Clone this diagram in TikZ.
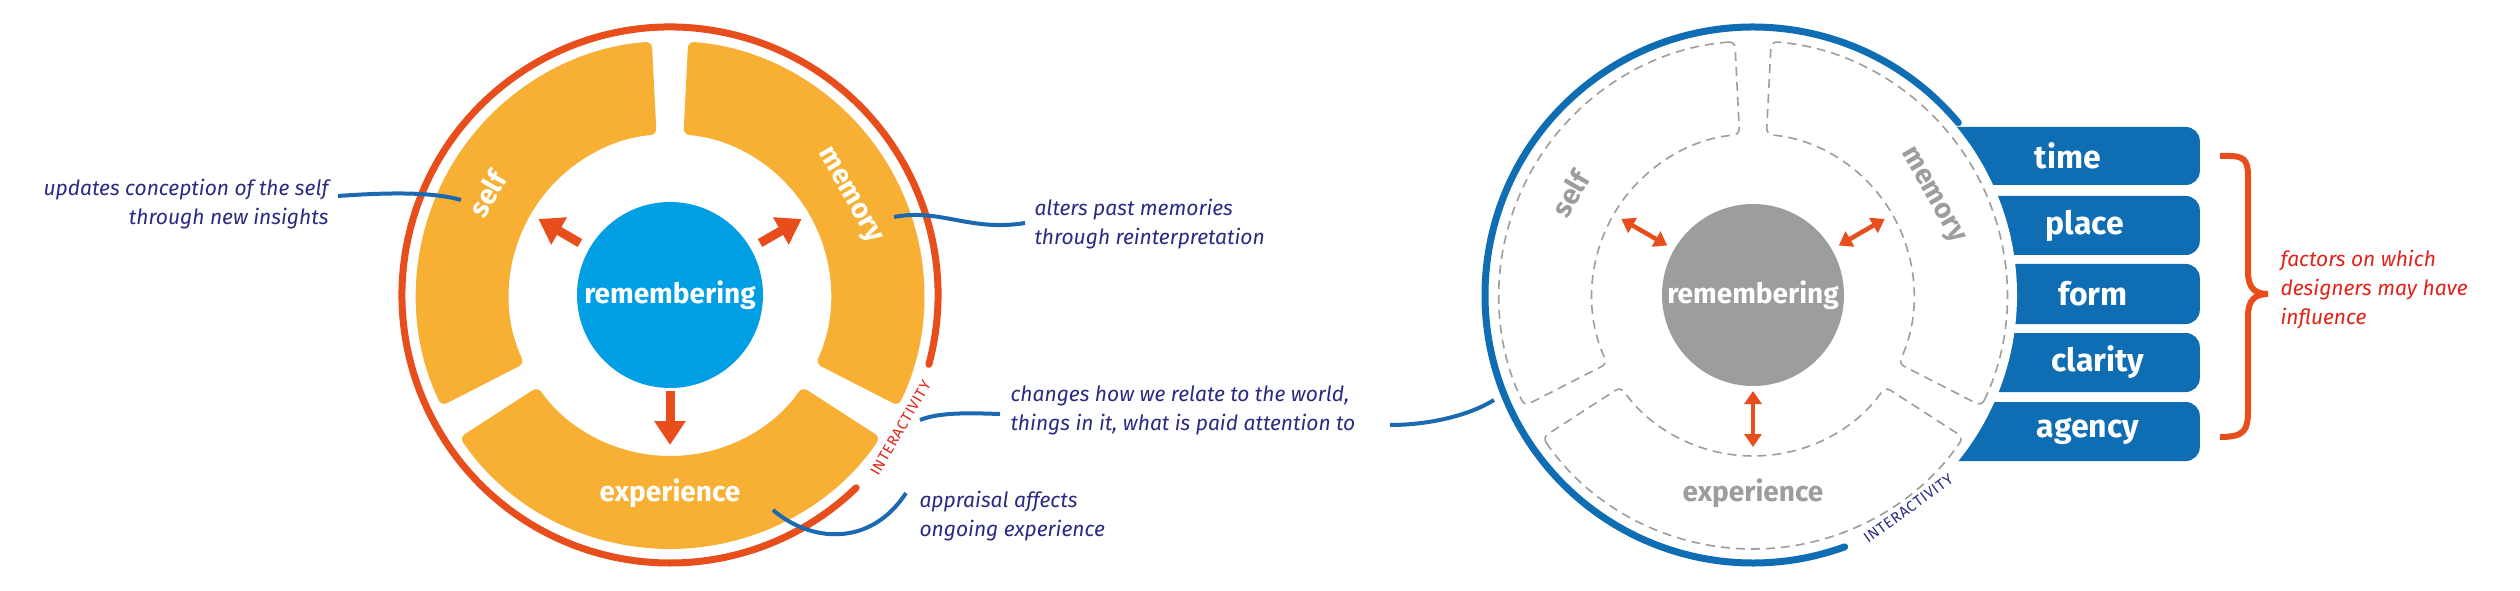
\documentclass[tikz,border=0pt]{standalone}
\usepackage{fontspec}
\setmainfont{Fira Sans}
\usetikzlibrary{arrows.meta}
\definecolor{segor}{HTML}{F7B033}
\definecolor{ringred}{HTML}{E84E1B}
\definecolor{cblue}{HTML}{009FE3}
\definecolor{tabblue}{HTML}{0F6DB4}
\definecolor{navy}{HTML}{2B2A83}
\definecolor{lineblue}{HTML}{1B6AB1}
\definecolor{gr}{HTML}{9D9D9C}
\definecolor{factred}{HTML}{E2231A}
\tikzset{
 segfill/.style={fill=segor,rounded corners=6pt},
 segdash/.style={draw=gr,dashed,line width=1.6pt,dash pattern=on 9pt off 6pt,rounded corners=6pt},
 lbl/.style={text=white,font=\fontsize{28}{30}\selectfont\bfseries},
 glbl/.style={text=gr,font=\fontsize{28}{30}\selectfont\bfseries},
 note/.style={text=navy,font=\fontsize{21}{29}\selectfont\itshape},
 noteline/.style={draw=lineblue,line width=4pt},
 bigarrow/.style={draw=ringred,line width=9pt,-{Triangle[length=24pt,width=30pt]}},
 dblarrow/.style={draw=ringred,line width=4.5pt,{Triangle[length=13pt,width=17pt]}-{Triangle[length=13pt,width=17pt]}},
 tabbox/.style={fill=tabblue,rounded corners=14pt},
 tablbl/.style={text=white,font=\fontsize{32}{34}\selectfont\bfseries},
 inter/.style={font=\fontsize{15}{15}\selectfont\addfontfeature{LetterSpace=5}}
}
\newcommand{\segpath}[2]{% start, end angle
 (#1+4.1:254pt) arc[start angle=#1+4.1,end angle=#2-4.1,radius=254pt]
 -- (#2-4.8:161pt) arc[start angle=#2-4.8,end angle=#1+4.8,radius=161pt] -- cycle}
\begin{document}
\begin{tikzpicture}[x=1pt,y=1pt]
\useasboundingbox[fill=white] (0,0) rectangle (2520,590);
% ================= LEFT =================
\begin{scope}[shift={(670,295)}]
 \fill[segfill] \segpath{90}{210};
 \fill[segfill] \segpath{210}{330};
 \fill[segfill] \segpath{-30}{90};
 \draw[ringred,line width=7pt,line cap=round] (-15:268pt) arc[start angle=-15,end angle=314,radius=268pt];
 \node[inter,text=factred,rotate=60] (intl) at (-30:266pt) {INTERACTIVITY};
 \node[circle,fill=cblue,minimum size=186pt,inner sep=0pt,lbl] (remL) at (0,0) {remembering};
 \node[lbl,rotate=60] (selfL) at (151:209pt) {self};
 \node[lbl,rotate=-60] (memL) at (29:204pt) {memory};
 \node[lbl] (expL) at (270:198pt) {experience};
 \coordinate (aS1) at (150:104pt); \coordinate (aS2) at (150:152pt);
 \coordinate (aM1) at (30:104pt); \coordinate (aM2) at (30:152pt);
 \coordinate (aE1) at (270:96pt); \coordinate (aE2) at (270:150pt);
 \draw[bigarrow] (aS1) -- (aS2);
 \draw[bigarrow] (aM1) -- (aM2);
 \draw[bigarrow] (aE1) -- (aE2);
\end{scope}
% annotations left
\node[note,align=right,anchor=east] (n1) at (332,386) {updates conception of the self\\through new insights};
\node[note,align=left,anchor=west] (n2) at (1031,366) {alters past memories\\through reinterpretation};
\node[note,align=left,anchor=west] (n3) at (1007,180) {changes how we relate to the world,\\things in it, what is paid attention to};
\node[note,align=left,anchor=west] (n4) at (916,74) {appraisal affects\\ongoing experience};
\coordinate (c1) at (461,390);
\coordinate (c2) at (894,373);
\coordinate (c3) at (920,170);
\coordinate (c4) at (773,80);
\coordinate (c5) at (1494,190);
\draw[noteline] (338,394) .. controls (380,397) and (430,399) .. (c1);
\draw[noteline] (c2) .. controls (940,382) and (970,358) .. (1025,367);
\draw[noteline] (c3) .. controls (940,178) and (970,177) .. (1000,176);
\draw[noteline] (c4) .. controls (810,48) and (870,42) .. (906,97);
\draw[noteline] (1390,165) .. controls (1430,165) and (1470,175) .. (c5);
% ================= RIGHT =================
\node[tabbox,minimum width=320pt,minimum height=58pt,anchor=east] (tTime) at (2200,434) {};
\node[tabbox,minimum width=320pt,minimum height=59pt,anchor=east] (tPlace) at (2200,364.5) {};
\node[tabbox,minimum width=320pt,minimum height=60pt,anchor=east] (tForm) at (2200,296) {};
\node[tabbox,minimum width=320pt,minimum height=59pt,anchor=east] (tClar) at (2200,227.5) {};
\node[tabbox,minimum width=320pt,minimum height=59pt,anchor=east] (tAg) at (2200,158.5) {};
\begin{scope}[shift={(1753,295)}]
 \fill[white] (0,0) circle[radius=264pt];
 \draw[segdash] \segpath{90}{210};
 \draw[segdash] \segpath{210}{330};
 \draw[segdash] \segpath{-30}{90};
 \draw[tabblue,line width=7pt,line cap=round] (40:268pt) arc[start angle=40,end angle=290,radius=268pt];
 \node[inter,text=navy,rotate=36] (intr) at (-54:264pt) {INTERACTIVITY};
 \node[circle,fill=gr,minimum size=182pt,inner sep=0pt,lbl] (remR) at (0,0) {remembering};
 \node[glbl,rotate=60] (selfR) at (151:209pt) {self};
 \node[glbl,rotate=-60] (memR) at (29:204pt) {memory};
 \node[glbl] (expR) at (270:198pt) {experience};
 \coordinate (bS1) at (150:99pt); \coordinate (bS2) at (150:152pt);
 \coordinate (bM1) at (30:99pt); \coordinate (bM2) at (30:152pt);
 \coordinate (bE1) at (270:96pt); \coordinate (bE2) at (270:152pt);
 \draw[dblarrow] (bS1) -- (bS2);
 \draw[dblarrow] (bM1) -- (bM2);
 \draw[dblarrow] (bE1) -- (bE2);
\end{scope}
\node[tablbl] (lTime) at (2068,434) {time};
\node[tablbl] (lPlace) at (2085,364.5) {place};
\node[tablbl] (lForm) at (2093,296) {form};
\node[tablbl] (lClar) at (2098,227.5) {clarity};
\node[tablbl] (lAg) at (2088,158.5) {agency};
% brace
\draw[ringred,line width=6pt] (2220,434) -- (2230,434) .. controls (2248,434) and (2248,425) .. (2248,410) -- (2248,318) .. controls (2248,302) and (2255,296) .. (2268,296) .. controls (2255,296) and (2248,290) .. (2248,274) -- (2248,180) .. controls (2248,160) and (2245,153) .. (2220,153);
\node[note,text=factred,align=left,anchor=west] (nf) at (2277,300) {factors on which\\designers may have\\influence};
\end{tikzpicture}
\end{document}
